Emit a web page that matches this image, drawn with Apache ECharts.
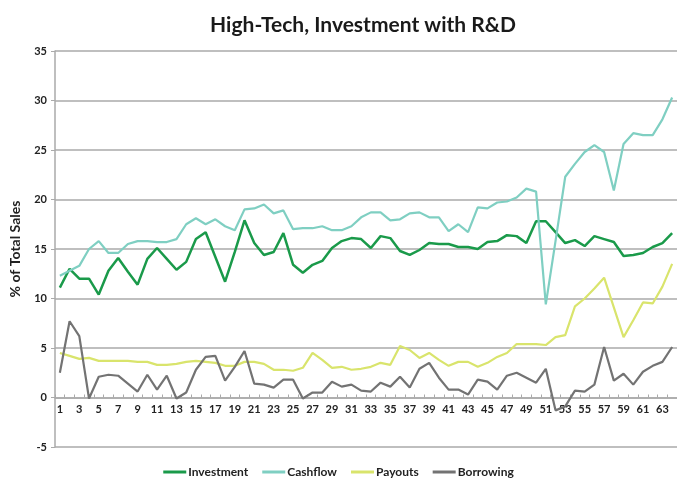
<!DOCTYPE html>
<html>
<head>
<meta charset="utf-8">
<script src="https://cdn.jsdelivr.net/npm/echarts@6/dist/echarts.min.js"></script>
<style>
  html, body { margin: 0; padding: 0; background: #fff; }
  #chart { width: 677px; height: 479px; }
</style>
</head>
<body>
<div id="chart"></div>
<script>
// periods 1..64
const periods = Array.from({length: 64}, (_, i) => String(i + 1))

const investment = [
  11.1, 13.0, 12.0, 12.0, 10.4, 12.8, 14.1, 12.7, 11.4, 14.0,
  15.1, 14.0, 12.9, 13.7, 16.0, 16.7, 14.2, 11.7, 14.7, 17.9,
  15.6, 14.4, 14.7, 16.6, 13.4, 12.6, 13.4, 13.8, 15.1, 15.8,
  16.1, 16.0, 15.1, 16.3, 16.1, 14.8, 14.4, 14.9, 15.6, 15.5,
  15.5, 15.2, 15.2, 15.0, 15.7, 15.8, 16.4, 16.3, 15.6, 17.8,
  17.8, 16.7, 15.6, 15.9, 15.3, 16.3, 16.0, 15.7, 14.3, 14.4,
  14.6, 15.2, 15.6, 16.6
]
const cashflow = [
  12.3, 12.8, 13.3, 15.0, 15.8, 14.6, 14.6, 15.5, 15.8, 15.8,
  15.7, 15.7, 16.0, 17.5, 18.1, 17.5, 18.0, 17.3, 16.9, 19.0,
  19.1, 19.5, 18.6, 18.9, 17.0, 17.1, 17.1, 17.3, 16.9, 16.9,
  17.3, 18.2, 18.7, 18.7, 17.9, 18.0, 18.6, 18.7, 18.2, 18.2,
  16.8, 17.5, 16.7, 19.2, 19.1, 19.7, 19.8, 20.2, 21.1, 20.8,
  9.4, 15.8, 22.3, 23.6, 24.8, 25.5, 24.8, 20.9, 25.6, 26.7,
  26.5, 26.5, 28.1, 30.3
]
const payouts = [
  4.5, 4.2, 3.9, 4.0, 3.7, 3.7, 3.7, 3.7, 3.6, 3.6,
  3.3, 3.3, 3.4, 3.6, 3.7, 3.6, 3.5, 3.2, 3.2, 3.6,
  3.6, 3.4, 2.8, 2.8, 2.7, 3.0, 4.5, 3.8, 3.0, 3.1,
  2.8, 2.9, 3.1, 3.5, 3.3, 5.2, 4.8, 4.0, 4.5, 3.8,
  3.2, 3.6, 3.6, 3.1, 3.5, 4.1, 4.5, 5.4, 5.4, 5.4,
  5.3, 6.1, 6.3, 9.2, 10.0, 11.0, 12.1, 9.1, 6.1, 7.8,
  9.6, 9.5, 11.2, 13.5
]
const borrowing = [
  2.5, 7.7, 6.2, -0.1, 2.1, 2.3, 2.2, 1.4, 0.6, 2.3,
  0.8, 2.2, -0.1, 0.5, 2.8, 4.1, 4.2, 1.7, 3.1, 4.7,
  1.4, 1.3, 1.0, 1.8, 1.8, -0.1, 0.5, 0.5, 1.6, 1.1,
  1.3, 0.7, 0.6, 1.5, 1.1, 2.1, 1.0, 2.9, 3.5, 2.0,
  0.8, 0.8, 0.3, 1.8, 1.6, 0.8, 2.2, 2.5, 2.0, 1.5,
  2.9, -1.3, -0.9, 0.7, 0.6, 1.3, 5.1, 1.7, 2.4, 1.3,
  2.6, 3.2, 3.6, 5.1
]

const font = 'Lato, "Open Sans", sans-serif'
const chart = echarts.init(document.getElementById('chart'), null, {renderer: 'canvas'})

function line (name, data, color, width) {
  return {
    name: name,
    type: 'line',
    data: data,
    symbol: 'none',
    lineStyle: {color: color, width: width},
    itemStyle: {color: color}
  }
}

// grid is 396px tall for 40 units; the category axis sits on the 0 line
const zeroOffset = -396 / 40 * 5

chart.setOption({
  animation: false,
  title: {
    text: 'High-Tech, Investment with R&D',
    left: 358,
    textAlign: 'center',
    top: 10,
    textStyle: {fontFamily: font, fontSize: 21, fontWeight: 'bold', color: '#1a1a1a'}
  },
  legend: {
    bottom: -4,
    left: 'center',
    itemWidth: 23,
    itemHeight: 3,
    itemGap: 14,
    icon: 'rect',
    textStyle: {fontFamily: font, fontSize: 12, fontWeight: 'bold', color: '#222', padding: [0, 0, 0, -3]},
    data: ['Investment', 'Cashflow', 'Payouts', 'Borrowing']
  },
  grid: {left: 52, right: 0, top: 51, bottom: 32},
  xAxis: {
    type: 'category',
    data: periods,
    boundaryGap: true,
    offset: zeroOffset,
    axisLine: {onZero: false, lineStyle: {color: '#aaa', width: 1.5}},
    axisTick: {show: true, inside: true, length: 3, interval: 0, lineStyle: {color: '#aaa'}},
    axisLabel: {interval: 1, fontFamily: font, fontSize: 11, fontWeight: 'bold', color: '#222', margin: 6}
  },
  yAxis: {
    type: 'value',
    min: -5,
    max: 35,
    interval: 5,
    name: '% of Total Sales',
    nameLocation: 'middle',
    nameGap: 33,
    nameTextStyle: {fontFamily: font, fontSize: 14, fontWeight: 'bold', color: '#222'},
    axisLine: {show: true, lineStyle: {color: '#aaa', width: 1.5}},
    axisTick: {show: true, length: 4, lineStyle: {color: '#aaa'}},
    axisLabel: {fontFamily: font, fontSize: 11, fontWeight: 'bold', color: '#222', margin: 8},
    splitLine: {lineStyle: {color: '#aaa', width: 1.5}}
  },
  series: [
    line('Investment', investment, '#1a9a4a', 2.5),
    line('Cashflow', cashflow, '#7fcfc2', 2.2),
    line('Payouts', payouts, '#d9e46c', 2.2),
    line('Borrowing', borrowing, '#737373', 2.2)
  ]
})
</script>
</body>
</html>
